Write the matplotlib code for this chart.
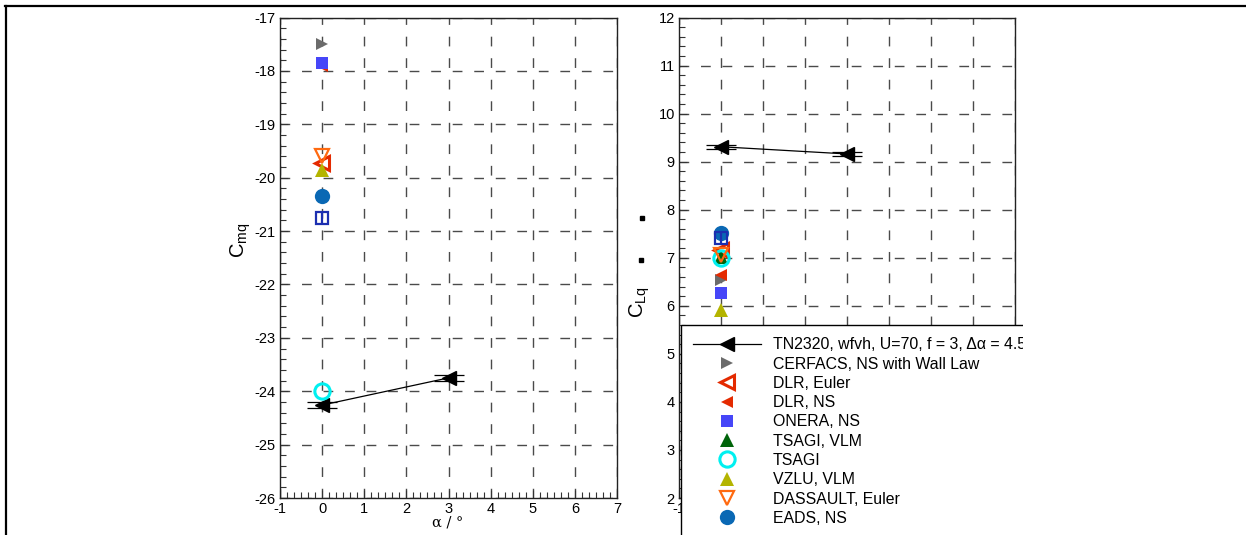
import matplotlib
matplotlib.use("Agg")
import matplotlib.pyplot as plt
from matplotlib.ticker import MultipleLocator, AutoMinorLocator, FuncFormatter
from matplotlib.lines import Line2D
from matplotlib.patches import Rectangle

plt.rcParams['font.family'] = ['Liberation Sans', 'DejaVu Sans']
plt.rcParams['mathtext.fontset'] = 'custom'
plt.rcParams['mathtext.rm'] = 'Liberation Sans'
plt.rcParams['mathtext.it'] = 'Liberation Sans'
plt.rcParams['lines.scale_dashes'] = False
plt.rcParams['axes.unicode_minus'] = False

W, H = 1246, 535

# ---------------- data ----------------
alpha_exp = [0.0, 3.0]
cmq_exp = [-24.26, -23.75]
clq_exp = [9.31, 9.16]
cmq_err = 0.05
clq_err = 0.04

labels = ["CERFACS, NS with Wall Law", "DLR, Euler", "DLR, NS", "ONERA, NS",
          "TSAGI, VLM", "TSAGI", "VZLU, VLM", "DASSAULT, Euler", "EADS, NS"]
alpha_cfd = 0.0
cmq_cfd = [-17.5, -19.72, -17.9, -17.85, None, -24.0, -19.86, -19.6, -20.34]
clq_cfd = [6.54, 7.16, 6.64, 6.27, 7.02, 6.99, 5.92, 7.06, 7.52]
cmq_extra = -20.76   # unlabeled open square (legend entry cut off)
clq_extra = 7.41

exp_label = "TN2320, wfvh, U=70, f = 3, \u0394\u03b1 = 4.5\u00b0"

styles = [
    dict(marker='>', color='#6b6b6b', ms=9, mfc='#6b6b6b', mew=0),
    dict(marker='<', color='#e42a00', ms=10, mfc='none', mew=2.2),
    dict(marker='<', color='#e42a00', ms=9, mfc='#e42a00', mew=0),
    dict(marker='s', color='#4646f8', ms=9, mfc='#4646f8', mew=0),
    dict(marker='^', color='#00640a', ms=10, mfc='#00640a', mew=0),
    dict(marker='o', color='#00f0f0', ms=11, mfc='none', mew=2.2),
    dict(marker='^', color='#b4b400', ms=10, mfc='#b4b400', mew=0),
    dict(marker='v', color='#ff6a10', ms=10, mfc='none', mew=1.6),
    dict(marker='o', color='#0a68b4', ms=11, mfc='#0a68b4', mew=0),
]

fig = plt.figure(figsize=(W / 100, H / 100), dpi=100)


def ax_rect(x0, x1, y0, y1):
    return [x0 / W, 1 - y1 / H, (x1 - x0) / W, (y1 - y0) / H]


ax1 = fig.add_axes(ax_rect(280, 617, 17.5, 498))
ax2 = fig.add_axes(ax_rect(679, 1015, 17.5, 498))

grid_kw = dict(color='#4a4a4a', linewidth=1.0, linestyle=(0, (7, 8.5)))

for ax, ylo, yhi in [(ax1, -26, -17), (ax2, 2, 12)]:
    ax.set_xlim(-1, 7)
    ax.set_ylim(ylo, yhi)
    ax.xaxis.set_major_locator(MultipleLocator(1))
    ax.yaxis.set_major_locator(MultipleLocator(1))
    ax.xaxis.set_minor_locator(AutoMinorLocator(6))
    ax.yaxis.set_minor_locator(AutoMinorLocator(5))
    ax.tick_params(which='both', direction='in', top=False, right=False,
                   labelsize=10.5, width=0.8, pad=3, color='#333333',
                   labelcolor='black')
    ax.tick_params(which='major', length=6)
    ax.tick_params(which='minor', length=4)
    ax.grid(True, which='major', **grid_kw)
    for sp in ax.spines.values():
        sp.set_linewidth(1.0)
        sp.set_color('#222222')
    ax.set_axisbelow(True)

# right panel: x tick labels lie under the legend; only the first peeks out
ax2.xaxis.set_major_formatter(
    FuncFormatter(lambda v, p: f'{v:.0f}' if v < -0.5 else ''))

# experiment
for ax, yv, err in [(ax1, cmq_exp, cmq_err), (ax2, clq_exp, clq_err)]:
    ax.errorbar(alpha_exp, yv, yerr=err, fmt='none', ecolor='black',
                elinewidth=0.8, capsize=11, capthick=0.9, zorder=3)
    ax.plot(alpha_exp, yv, color='black', lw=0.9, marker='<', ms=9.5,
            mfc='black', mec='black', label=exp_label, zorder=4)

# CFD results
for lab, st, v1, v2 in zip(labels, styles, cmq_cfd, clq_cfd):
    kw = dict(linestyle='none', marker=st['marker'], ms=st['ms'],
              mfc=st['mfc'], mec=st['color'], mew=st['mew'], zorder=5)
    if v1 is not None:
        ax1.plot([alpha_cfd], [v1], **kw)
    ax2.plot([alpha_cfd], [v2], label=lab, **kw)

# unlabeled open square with vertical bar
for ax, v in [(ax1, cmq_extra), (ax2, clq_extra)]:
    ax.plot([alpha_cfd], [v], linestyle='none', marker='s', ms=9, mfc='none',
            mec='#1c2fb0', mew=1.6, zorder=6)
    ax.plot([alpha_cfd], [v], linestyle='none', marker='|', ms=9,
            mec='#1c2fb0', mew=1.6, zorder=6)

# axis labels
fig.text(241 / W, 1 - 240 / H, r'$\mathregular{C_{mq}}$', rotation=90,
         ha='center', va='center', fontsize=14.5)
fig.text(640 / W, 1 - 302 / H, r'$\mathregular{C_{Lq}}$', rotation=90,
         ha='center', va='center', fontsize=14.5)
fig.text(448 / W, 1 - 522 / H, '\u03b1 / \u00b0', ha='center', va='center',
         fontsize=10.5, family=['DejaVu Serif'])

# legend
leg = ax2.legend(loc='upper left', bbox_to_anchor=(681 / W, 1 - 325 / H),
                 bbox_transform=fig.transFigure, borderaxespad=0,
                 fontsize=11.4, frameon=True, fancybox=False, framealpha=1,
                 edgecolor='black', handlelength=4.25, handletextpad=0.75,
                 labelspacing=0.27, borderpad=0.78, numpoints=1)
leg.get_frame().set_linewidth(1.0)
leg.set_zorder(20)

# small stray marks near the C_Lq label
fig.add_artist(Line2D([642 / W], [1 - 218 / H], marker='s', ms=2.4,
                      color='black', linestyle='none', transform=fig.transFigure))
fig.add_artist(Line2D([641 / W], [1 - 260 / H], marker='s', ms=2.4,
                      color='black', linestyle='none', transform=fig.transFigure))

# clipped right part
fig.add_artist(Rectangle((1023 / W, 0), (W - 1023) / W, 1 - 9 / H,
                         transform=fig.transFigure, facecolor='white',
                         edgecolor='none', zorder=30))

# outer frame (top and left)
fig.add_artist(Line2D([5 / W, 1.0], [1 - 5.5 / H, 1 - 5.5 / H], color='black',
                      lw=1.6, transform=fig.transFigure, zorder=31))
fig.add_artist(Line2D([5.5 / W, 5.5 / W], [0, 1 - 5.5 / H], color='black',
                      lw=1.6, transform=fig.transFigure, zorder=31))

fig.savefig('out.png', dpi=100)
